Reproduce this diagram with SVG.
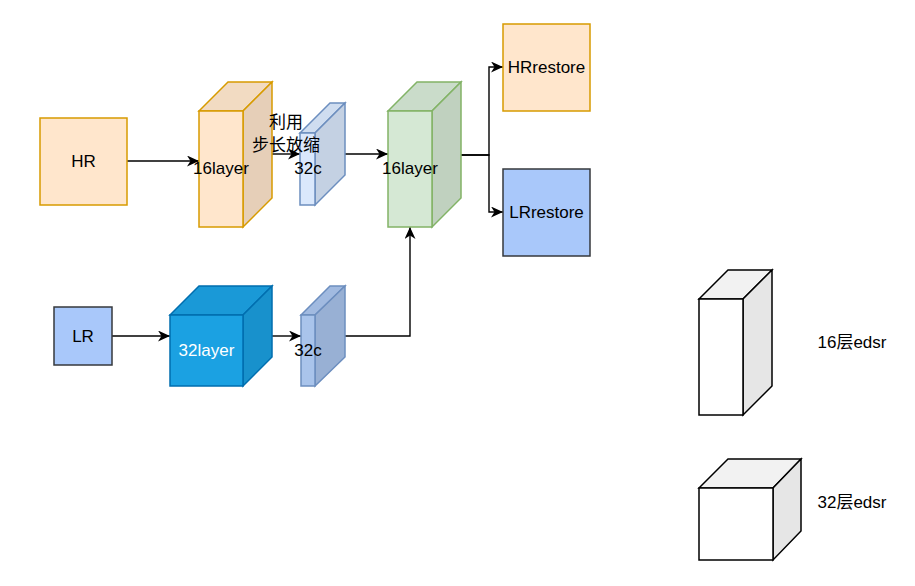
<svg xmlns="http://www.w3.org/2000/svg" width="915" height="586" viewBox="0 0 915 586">
  <defs>
    <marker id="arrow" markerUnits="userSpaceOnUse" markerWidth="13" markerHeight="12" refX="12" refY="5.5" orient="auto">
      <path d="M0,0 L12,5.5 L0,11 L3.5,5.5 z" fill="#000"/>
    </marker>
    <style>
      .lbl { font-family: "Liberation Sans", Arial, "Noto Sans CJK SC", sans-serif; font-size: 17px; fill: #000; text-anchor: middle; }
      .cjk { font-family: "Liberation Sans", "Noto Sans CJK SC", sans-serif; font-size: 17px; fill: #000; text-anchor: middle; }
      .edge { fill: none; stroke: #000; stroke-width: 1.4; }
      .shape { stroke-width: 1.5; stroke-linejoin: miter; }
    </style>
  </defs>
  <rect width="915" height="586" fill="#fff"/>

  <!-- connectors -->
  <g id="connectors">
    <path class="edge" d="M127,161 L199,161" marker-end="url(#arrow)"/>
    <path class="edge" d="M272,154 L300,154" marker-end="url(#arrow)"/>
    <path class="edge" d="M345,154 L388,154" marker-end="url(#arrow)"/>
    <path class="edge" d="M461,155 L489,155 L489,67 L503,67" marker-end="url(#arrow)"/>
    <path class="edge" d="M461,155 L489,155 L489,212 L503,212" marker-end="url(#arrow)"/>
    <path class="edge" d="M112,336 L170,336" marker-end="url(#arrow)"/>
    <path class="edge" d="M272,336 L301,336" marker-end="url(#arrow)"/>
    <path class="edge" d="M345,336 L410,336 L410,227" marker-end="url(#arrow)"/>
  </g>

  <!-- inputs -->
  <g id="hr">
    <rect class="shape" x="40" y="118" width="87" height="87" fill="#ffe6cc" stroke="#d79b00"/>
    <text class="lbl" x="83.5" y="167">HR</text>
  </g>
  <g id="lr">
    <rect class="shape" x="54" y="307" width="58" height="58" fill="#a9c8fa" stroke="#36393d"/>
    <text class="lbl" x="83" y="342">LR</text>
  </g>

  <!-- upper branch -->
  <g id="hr-16layer">
    <polygon class="shape" points="199,111 228,82 272,82 243,111" fill="#f2dbc2" stroke="#d79b00"/>
    <polygon class="shape" points="243,111 272,82 272,198 243,227" fill="#e6cfb8" stroke="#d79b00"/>
    <rect class="shape" x="199" y="111" width="44" height="116" fill="#ffe6cc" stroke="#d79b00"/>
    <text class="lbl" x="221" y="174">16layer</text>
  </g>
  <g id="hr-32c">
    <polygon class="shape" points="300,133 330,103 345,103 315,133" fill="#cfddf0" stroke="#6c8ebf"/>
    <polygon class="shape" points="315,133 345,103 345,175 315,205" fill="#c4d1e3" stroke="#6c8ebf"/>
    <rect class="shape" x="300" y="133" width="15" height="72" fill="#dae8fc" stroke="#6c8ebf"/>
    <text class="lbl" x="308" y="174">32c</text>
  </g>
  <g id="fusion-16layer">
    <polygon class="shape" points="388,111 417,82 461,82 432,111" fill="#cadcca" stroke="#82b366"/>
    <polygon class="shape" points="432,111 461,82 461,198 432,227" fill="#c0d1bf" stroke="#82b366"/>
    <rect class="shape" x="388" y="111" width="44" height="116" fill="#d5e8d4" stroke="#82b366"/>
    <text class="lbl" x="410" y="174">16layer</text>
  </g>

  <!-- lower branch -->
  <g id="lr-32layer">
    <polygon class="shape" points="170,315 199,286 272,286 243,315" fill="#1a99d7" stroke="#006eaf"/>
    <polygon class="shape" points="243,315 272,286 272,357 243,386" fill="#1891cc" stroke="#006eaf"/>
    <rect class="shape" x="170" y="315" width="73" height="71" fill="#1ba1e2" stroke="#006eaf"/>
    <text class="lbl" x="206.5" y="356" style="fill:#fff">32layer</text>
  </g>
  <g id="lr-32c">
    <polygon class="shape" points="301,315 330,286 345,286 315,315" fill="#a1bae0" stroke="#6c8ebf"/>
    <polygon class="shape" points="315,315 345,286 345,357 315,386" fill="#98b0d4" stroke="#6c8ebf"/>
    <rect class="shape" x="301" y="315" width="14" height="71" fill="#a9c4eb" stroke="#6c8ebf"/>
    <text class="lbl" x="308" y="356">32c</text>
  </g>

  <!-- outputs -->
  <g id="hr-restore">
    <rect class="shape" x="503" y="24" width="87" height="87" fill="#ffe6cc" stroke="#d79b00"/>
    <text class="lbl" x="546.5" y="73">HRrestore</text>
  </g>
  <g id="lr-restore">
    <rect class="shape" x="503" y="169" width="87" height="87" fill="#a9c8fa" stroke="#36393d"/>
    <text class="lbl" x="546.5" y="218">LRrestore</text>
  </g>

  <!-- stride scaling note -->
  <g id="stride-note">
    <text class="cjk" x="286" y="128">利用</text>
    <text class="cjk" x="286" y="151">步长放缩</text>
  </g>

  <!-- legend -->
  <g id="legend-16">
    <polygon class="shape" points="699,299 728,270 772,270 743,299" fill="#f2f2f2" stroke="#000"/>
    <polygon class="shape" points="743,299 772,270 772,386 743,415" fill="#e6e6e6" stroke="#000"/>
    <rect class="shape" x="699" y="299" width="44" height="116" fill="#fff" stroke="#000"/>
    <text class="cjk" x="852" y="348">16层edsr</text>
  </g>
  <g id="legend-32">
    <polygon class="shape" points="699,488 728,459 801,459 773,488" fill="#f2f2f2" stroke="#000"/>
    <polygon class="shape" points="773,488 801,459 801,531 773,560" fill="#e6e6e6" stroke="#000"/>
    <rect class="shape" x="699" y="488" width="74" height="72" fill="#fff" stroke="#000"/>
    <text class="cjk" x="852" y="508">32层edsr</text>
  </g>
</svg>
